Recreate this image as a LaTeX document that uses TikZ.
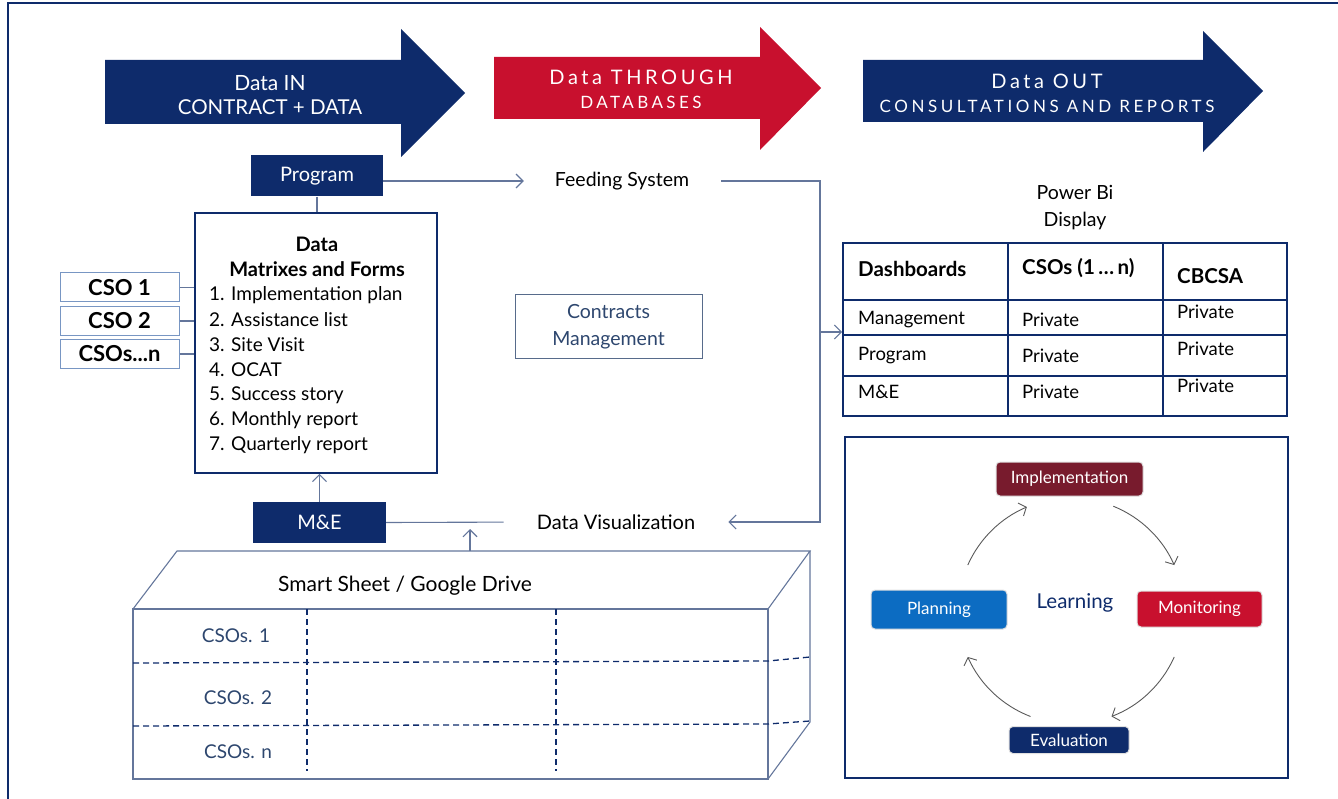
\documentclass[tikz,border=0pt]{standalone}
\usepackage{fontspec}
\setmainfont{Lato}
\usetikzlibrary{arrows.meta,calc}
\definecolor{navy}{RGB}{14,43,107}
\definecolor{crimson}{RGB}{200,16,46}
\definecolor{maroon}{RGB}{120,27,45}
\definecolor{planblue}{RGB}{12,108,194}
\definecolor{linkgray}{RGB}{100,118,155}
\definecolor{labelnavy}{RGB}{45,70,110}
\definecolor{csoedge}{RGB}{120,150,195}
\tikzset{
  arrowtxt/.style={text=white, align=center, inner sep=0pt, font=\fontsize{21}{24}\selectfont},
  navybox/.style={fill=navy, text=white, inner sep=0pt, font=\fontsize{20}{24}\selectfont},
  csobox/.style={draw=csoedge, line width=1pt, inner sep=0pt, minimum width=119pt, minimum height=29pt, font=\fontsize{22}{24}\selectfont\bfseries},
  txt/.style={inner sep=0pt, font=\fontsize{19}{25}\selectfont},
  item/.style={anchor=west, inner sep=0pt, font=\fontsize{19}{25}\selectfont},
  cellhead/.style={anchor=west, inner sep=0pt, font=\fontsize{20.5}{24}\selectfont\bfseries},
  cell/.style={anchor=west, inner sep=0pt, font=\fontsize{18.5}{24}\selectfont},
  link/.style={draw=linkgray, line width=1.1pt},
  barb/.style={-{Straight Barb[length=7pt,width=14pt]}},
  stage/.style={rounded corners=4pt, text=white, draw=black!12, line width=1pt, inner sep=0pt, font=\fontsize{17}{20}\selectfont},
  cyc/.style={draw=black!65, line width=0.9pt, -{Straight Barb[length=6pt,width=14pt]}},
  sheetedge/.style={draw=linkgray, line width=1.1pt},
  grid/.style={draw=navy, line width=1.3pt, dash pattern=on 6pt off 4pt}
}

\begin{document}
\begin{tikzpicture}[x=1pt,y=-1pt]
		\useasboundingbox (0,0) rectangle (1338,799);
		%%%%% START %%%%%
		
		\draw[navy, line width=2pt] (1338,3) -- (8,3) -- (8,799);
		
		% three phase arrows
		\fill[navy] (105,60) -- (401,60) -- (401,29) -- (465,93) -- (401,157) -- (401,124) -- (105,124) -- cycle;
		\node[arrowtxt] (datain) at (270,95) {Data IN\\{\fontsize{20.5}{24}\selectfont CONTRACT + DATA}};
		
		\fill[crimson] (494,57) -- (760,57) -- (760,27) -- (821,88) -- (760,150) -- (760,119) -- (494,119) -- cycle;
		\node[arrowtxt] (datathrough) at (641,89) {{\fontsize{20}{24}\selectfont\addfontfeatures{LetterSpace=18}Data THROUGH}\\{\fontsize{17}{24}\selectfont\addfontfeatures{LetterSpace=20}DATABASES}};
		
		\fill[navy] (863,60) -- (1203,60) -- (1203,31) -- (1263,91) -- (1203,152) -- (1203,122) -- (863,122) -- cycle;
		\node[arrowtxt] (dataout) at (1047,93) {{\fontsize{20}{24}\selectfont\addfontfeatures{LetterSpace=18}Data OUT}\\{\fontsize{17}{24}\selectfont\addfontfeatures{LetterSpace=21}CONSULTATIONS AND REPORTS}};
		
		% data in
		\node[navybox, minimum width=132pt, minimum height=41pt] (program) at (317,176) {Program};
		\node[txt, font=\fontsize{19.5}{25}\selectfont] (feed) at (622,181) {Feeding System};
		\draw[link, barb, shorten >=31pt] (program.east |- feed) -- (feed.west);
		
		\node[draw=navy, line width=1.8pt, minimum width=242pt, minimum height=260pt, inner sep=0pt] (forms) at (316,343) {};
		\draw[link] (program.south) -- (program.south |- forms.north);
		\node[txt, font=\fontsize{20}{25}\selectfont\bfseries, align=center] (formstitle) at (317,257) {Data\\Matrixes and Forms};
		\node[item] (item1) at (209,295) {1. Implementation plan};
		\node[item] (item2) at (209,320) {2. Assistance list};
		\node[item] (item3) at (209,345) {3. Site Visit};
		\node[item] (item4) at (209,370) {4. OCAT};
		\node[item] (item5) at (209,395) {5. Success story};
		\node[item] (item6) at (209,420) {6. Monthly report};
		\node[item] (item7) at (209,445) {7. Quarterly report};
		
		\node[csobox] (cso1) at (119.5,287.5) {CSO 1};
		\node[csobox] (cso2) at (119.5,321) {CSO 2};
		\node[csobox] (cson) at (119.5,354) {CSOs...n};
		\draw[link] (cso1.east) -- (cso1.east -| forms.west);
		\draw[link] (cso2.east) -- (cso2.east -| forms.west);
		\draw[link] (cson.east) -- (cson.east -| forms.west);
		
		\node[navybox, minimum width=133pt, minimum height=41pt] (me) at (319.5,522.5) {M\&E};
		\draw[link, barb] (me.north) -- (me.north |- forms.south);
		\node[txt, font=\fontsize{20}{25}\selectfont] (vis) at (616,522) {Data Visualization};
		\draw[link, shorten >=33pt] (me.east) -- (vis.west);
		
		% data through
		\node[txt, draw=labelnavy!80, line width=1pt, minimum width=187pt, minimum height=64pt, align=center, text=labelnavy, font=\fontsize{19.5}{27}\selectfont] (contracts) at (608.5,327) {Contracts\\Management};
		
		\coordinate (fsturn) at (820,181);
		\coordinate (vsturn) at (820,522);
		\coordinate (tblin) at (820,332);
		\draw[link, barb, shorten <=32pt, shorten >=33pt] (feed.east) -- (fsturn) -- (vsturn) -- (vis.east);
		
		% smart sheet block
		\draw[sheetedge] (133,609) rectangle (768,779);
		\draw[sheetedge] (133,609) -- (177,551) -- (810,551) -- (768,609);
		\draw[sheetedge] (810,551) -- (810,722) -- (768,779);
		\draw[grid] (307,609) -- (307,771);
		\draw[grid] (556,609) -- (556,771);
		\draw[grid] (133,663) -- (768,661) -- (810,657);
		\draw[grid] (133,726) -- (768,724) -- (810,721);
		\node[txt, font=\fontsize{21}{24}\selectfont] (sheettitle) at (405,586) {Smart Sheet / Google Drive};
		\node[txt, text=labelnavy] (row1) at (236,636) {CSOs. 1};
		\node[txt, text=labelnavy] (row2) at (238,698) {CSOs. 2};
		\node[txt, text=labelnavy] (rown) at (238,752) {CSOs. n};
		\coordinate (sheettop) at (470,551);
		\coordinate (sheetup) at (470,529);
		\draw[link, barb] (sheettop) -- (sheetup);
		
		% data out
		\node[txt, align=center, font=\fontsize{19.5}{27}\selectfont] (powerbi) at (1075,208) {Power Bi\\Display};
		\node[draw=navy, line width=1.8pt, minimum width=444pt, minimum height=173pt, inner sep=0pt] (powertbl) at (1065,329.5) {};
		\draw[link, barb] (tblin) -- (tblin -| powertbl.west);
		\draw[navy, line width=1.8pt] (1008,243) -- (1008,416);
		\draw[navy, line width=1.8pt] (1163,243) -- (1163,416);
		\draw[navy, line width=1.8pt] (843,300) -- (1287,300);
		\draw[navy, line width=1.8pt] (843,335) -- (1287,335);
		\draw[navy, line width=1.8pt] (843,376) -- (1287,376);
		\node[cellhead] (hdash) at (858,269) {Dashboards};
		\node[cellhead] (hcso) at (1022,268) {CSOs (1\,\ldots\,n)};
		\node[cellhead] (hcbcsa) at (1177,276) {CBCSA};
		\node[cell] (rmgmt) at (858,320) {Management};
		\node[cell] (rprog) at (858,356) {Program};
		\node[cell] (rme) at (858,392) {M\&E};
		\node[cell] (pa1) at (1022,320) {Private};
		\node[cell] (pa2) at (1022,356) {Private};
		\node[cell] (pa3) at (1022,392) {Private};
		\node[cell] (pb1) at (1177,312) {Private};
		\node[cell] (pb2) at (1177,349) {Private};
		\node[cell] (pb3) at (1177,386) {Private};
		
		% learning cycle
		\draw[navy, line width=1.8pt] (845,437) rectangle (1288,778);
		\node[stage, fill=maroon, minimum width=147pt, minimum height=34pt] (impl) at (1069.5,479) {Implementation};
		\node[stage, fill=planblue, minimum width=136pt, minimum height=39pt] (plan) at (939,609.5) {Planning};
		\node[stage, fill=crimson, minimum width=125pt, minimum height=36pt] (moni) at (1199.5,609) {Monitoring};
		\node[stage, fill=navy, minimum width=120pt, minimum height=27pt] (eval) at (1069,740) {Evaluation};
		\node[txt, text=navy, font=\fontsize{20.5}{24}\selectfont] (learn) at (1075,603) {Learning};
		\coordinate (hub) at (1071,611);
		\draw[cyc] ([shift={(204:113)}]hub) arc[start angle=204, end angle=247, radius=113];
		\draw[cyc] ([shift={(292:113)}]hub) arc[start angle=292, end angle=336, radius=113];
		\draw[cyc] ([shift={(24:113)}]hub) arc[start angle=24, end angle=69, radius=113];
		\draw[cyc] ([shift={(111:113)}]hub) arc[start angle=111, end angle=156, radius=113];
		
		%%%%% END %%%%%
\end{tikzpicture}
\end{document}
